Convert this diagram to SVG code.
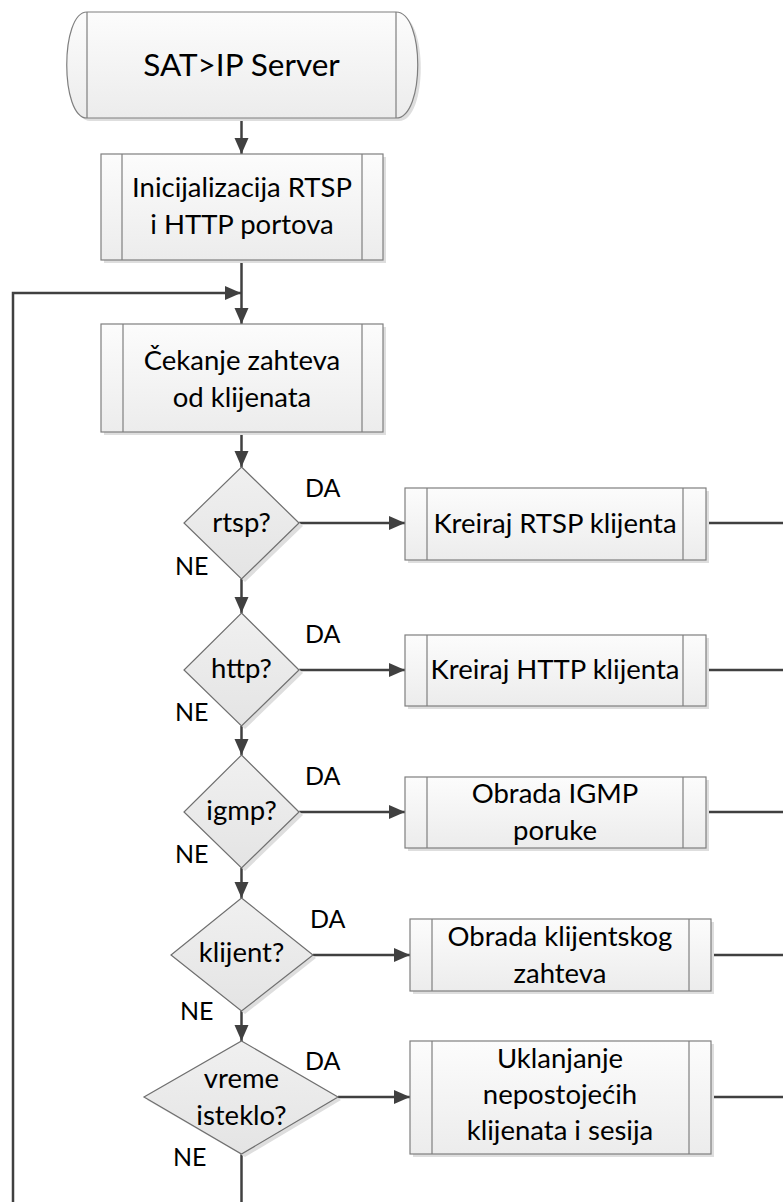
<svg xmlns="http://www.w3.org/2000/svg" width="783" height="1202" viewBox="0 0 783 1202">
  <style>
    text { font-family: Lato, "Liberation Sans", sans-serif; fill: #000; text-anchor: middle; }
    .t { font-size: 27.5px; }
    .big { font-size: 31.5px; }
    .lbl { font-size: 25px; text-anchor: start; }
    .shape { fill: url(#boxFill); stroke: #7f7f7f; stroke-width: 1.2; }
    .dia { fill: url(#diaFill); stroke: #6f6f6f; stroke-width: 1.2; }
    .inner { stroke: #7f7f7f; stroke-width: 1.2; fill: none; }
    .shadow { fill: #dedede; }
    .flow { stroke: #404040; stroke-width: 2.5; fill: none; }
    .arrow { marker-end: url(#head); }
  </style>
  <defs>
    <linearGradient id="boxFill" x1="0" y1="0" x2="0" y2="1">
      <stop offset="0" stop-color="#fcfcfc"/>
      <stop offset="1" stop-color="#ececec"/>
    </linearGradient>
    <linearGradient id="diaFill" x1="0" y1="0" x2="0" y2="1">
      <stop offset="0" stop-color="#f0f0f0"/>
      <stop offset="1" stop-color="#e4e4e4"/>
    </linearGradient>
    <marker id="head" markerUnits="userSpaceOnUse" markerWidth="18" markerHeight="16" refX="16" refY="7" orient="auto">
      <path d="M0,0 L16,7 L0,14 Z" fill="#404040"/>
    </marker>
  </defs>

  <!-- connectors -->
  <g id="connectors">
    <line class="flow arrow" x1="241.5" y1="118" x2="241.5" y2="154"/>
    <line class="flow arrow" x1="241.5" y1="260" x2="241.5" y2="324"/>
    <polyline class="flow arrow" points="13,1202 13,293 241,293"/>
    <line class="flow arrow" x1="241.5" y1="432" x2="241.5" y2="467"/>
    <line class="flow arrow" x1="241.5" y1="579" x2="241.5" y2="613"/>
    <line class="flow arrow" x1="241.5" y1="726" x2="241.5" y2="755"/>
    <line class="flow arrow" x1="241.5" y1="868" x2="241.5" y2="898"/>
    <line class="flow arrow" x1="241.5" y1="1011" x2="241.5" y2="1041"/>
    <line class="flow" x1="241.5" y1="1154" x2="241.5" y2="1202"/>
    <!-- DA branches -->
    <line class="flow arrow" x1="299" y1="523" x2="405" y2="523"/>
    <line class="flow arrow" x1="299" y1="670" x2="405" y2="670"/>
    <line class="flow arrow" x1="299" y1="812" x2="405" y2="812"/>
    <line class="flow arrow" x1="313" y1="955" x2="410" y2="955"/>
    <line class="flow arrow" x1="338" y1="1097" x2="410" y2="1097"/>
    <!-- returns to the right edge -->
    <line class="flow" x1="706" y1="523" x2="783" y2="523"/>
    <line class="flow" x1="706" y1="670" x2="783" y2="670"/>
    <line class="flow" x1="706" y1="812" x2="783" y2="812"/>
    <line class="flow" x1="711" y1="955" x2="783" y2="955"/>
    <line class="flow" x1="711" y1="1097" x2="783" y2="1097"/>
  </g>

  <!-- start terminator -->
  <g id="start">
    <path class="shadow" d="M90,15 L399,15 C428,15 428,121 399,121 L90,121 C63,121 63,15 90,15 Z"/>
    <path class="shape" d="M87,12 L396,12 C425,12 425,118 396,118 L87,118 C60,118 60,12 87,12 Z"/>
    <line class="inner" x1="87" y1="12" x2="87" y2="118"/>
    <line class="inner" x1="396" y1="12" x2="396" y2="118"/>
    <text class="big" x="241.5" y="76">SAT&gt;IP Server</text>
  </g>

  <g id="init">
    <rect class="shadow" x="104" y="157" width="282" height="106"/>
    <rect class="shape" x="101" y="154" width="282" height="106"/>
    <line class="inner" x1="122" y1="154" x2="122" y2="260"/>
    <line class="inner" x1="362" y1="154" x2="362" y2="260"/>
    <text class="t" x="242" y="197">Inicijalizacija RTSP</text>
    <text class="t" x="242" y="234">i HTTP portova</text>
  </g>

  <g id="wait">
    <rect class="shadow" x="104" y="327" width="282" height="108"/>
    <rect class="shape" x="101" y="324" width="282" height="108"/>
    <line class="inner" x1="123" y1="324" x2="123" y2="432"/>
    <line class="inner" x1="362" y1="324" x2="362" y2="432"/>
    <text class="t" x="242" y="370">Čekanje zahteva</text>
    <text class="t" x="242" y="407">od klijenata</text>
  </g>

  <!-- decision: rtsp -->
  <g id="d-rtsp">
    <polygon class="shadow" points="245,470 303,526 245,582 187,526"/>
    <polygon class="dia" points="241.5,467 299,523 241.5,579 184,523"/>
    <text class="t" x="241.5" y="532">rtsp?</text>
    <text class="lbl" x="305" y="497">DA</text>
    <text class="lbl" x="175" y="575">NE</text>
  </g>
  <g id="p-rtsp">
    <rect class="shadow" x="408" y="491" width="301" height="72"/>
    <rect class="shape" x="405" y="488" width="301" height="72"/>
    <line class="inner" x1="427" y1="488" x2="427" y2="560"/>
    <line class="inner" x1="683" y1="488" x2="683" y2="560"/>
    <text class="t" x="555" y="533">Kreiraj RTSP klijenta</text>
  </g>

  <!-- decision: http -->
  <g id="d-http">
    <polygon class="shadow" points="245,616 303,673 245,729 187,673"/>
    <polygon class="dia" points="241.5,613 299,670 241.5,726 184,670"/>
    <text class="t" x="241.5" y="678">http?</text>
    <text class="lbl" x="305" y="643">DA</text>
    <text class="lbl" x="175" y="721">NE</text>
  </g>
  <g id="p-http">
    <rect class="shadow" x="408" y="638" width="301" height="71"/>
    <rect class="shape" x="405" y="635" width="301" height="71"/>
    <line class="inner" x1="427" y1="635" x2="427" y2="706"/>
    <line class="inner" x1="683" y1="635" x2="683" y2="706"/>
    <text class="t" x="555" y="679">Kreiraj HTTP klijenta</text>
  </g>

  <!-- decision: igmp -->
  <g id="d-igmp">
    <polygon class="shadow" points="245,758 303,815 245,871 187,815"/>
    <polygon class="dia" points="241.5,755 299,812 241.5,868 184,812"/>
    <text class="t" x="241.5" y="820">igmp?</text>
    <text class="lbl" x="305" y="785">DA</text>
    <text class="lbl" x="175" y="863">NE</text>
  </g>
  <g id="p-igmp">
    <rect class="shadow" x="408" y="780" width="301" height="71"/>
    <rect class="shape" x="405" y="777" width="301" height="71"/>
    <line class="inner" x1="427" y1="777" x2="427" y2="848"/>
    <line class="inner" x1="683" y1="777" x2="683" y2="848"/>
    <text class="t" x="555" y="803">Obrada IGMP</text>
    <text class="t" x="555" y="840">poruke</text>
  </g>

  <!-- decision: client request -->
  <g id="d-klijent">
    <polygon class="shadow" points="245,901 316,958 245,1014 174,958"/>
    <polygon class="dia" points="241.5,898 313,955 241.5,1011 171,955"/>
    <text class="t" x="241.5" y="962">klijent?</text>
    <text class="lbl" x="310" y="928">DA</text>
    <text class="lbl" x="180" y="1020">NE</text>
  </g>
  <g id="p-klijent">
    <rect class="shadow" x="413" y="922" width="301" height="72"/>
    <rect class="shape" x="410" y="919" width="301" height="72"/>
    <line class="inner" x1="432" y1="919" x2="432" y2="991"/>
    <line class="inner" x1="689" y1="919" x2="689" y2="991"/>
    <text class="t" x="560" y="946">Obrada klijentskog</text>
    <text class="t" x="560" y="983">zahteva</text>
  </g>

  <!-- decision: timeout -->
  <g id="d-vreme">
    <polygon class="shadow" points="245,1044 341,1100 245,1157 147,1100"/>
    <polygon class="dia" points="241.5,1041 338,1097 241.5,1154 144,1097"/>
    <text class="t" x="241.5" y="1088">vreme</text>
    <text class="t" x="241.5" y="1125">isteklo?</text>
    <text class="lbl" x="305" y="1070">DA</text>
    <text class="lbl" x="173" y="1166">NE</text>
  </g>
  <g id="p-vreme">
    <rect class="shadow" x="413" y="1044" width="301" height="113"/>
    <rect class="shape" x="410" y="1041" width="301" height="113"/>
    <line class="inner" x1="432" y1="1041" x2="432" y2="1154"/>
    <line class="inner" x1="689" y1="1041" x2="689" y2="1154"/>
    <text class="t" x="560" y="1068">Uklanjanje</text>
    <text class="t" x="560" y="1104">nepostojećih</text>
    <text class="t" x="560" y="1140">klijenata i sesija</text>
  </g>
</svg>
